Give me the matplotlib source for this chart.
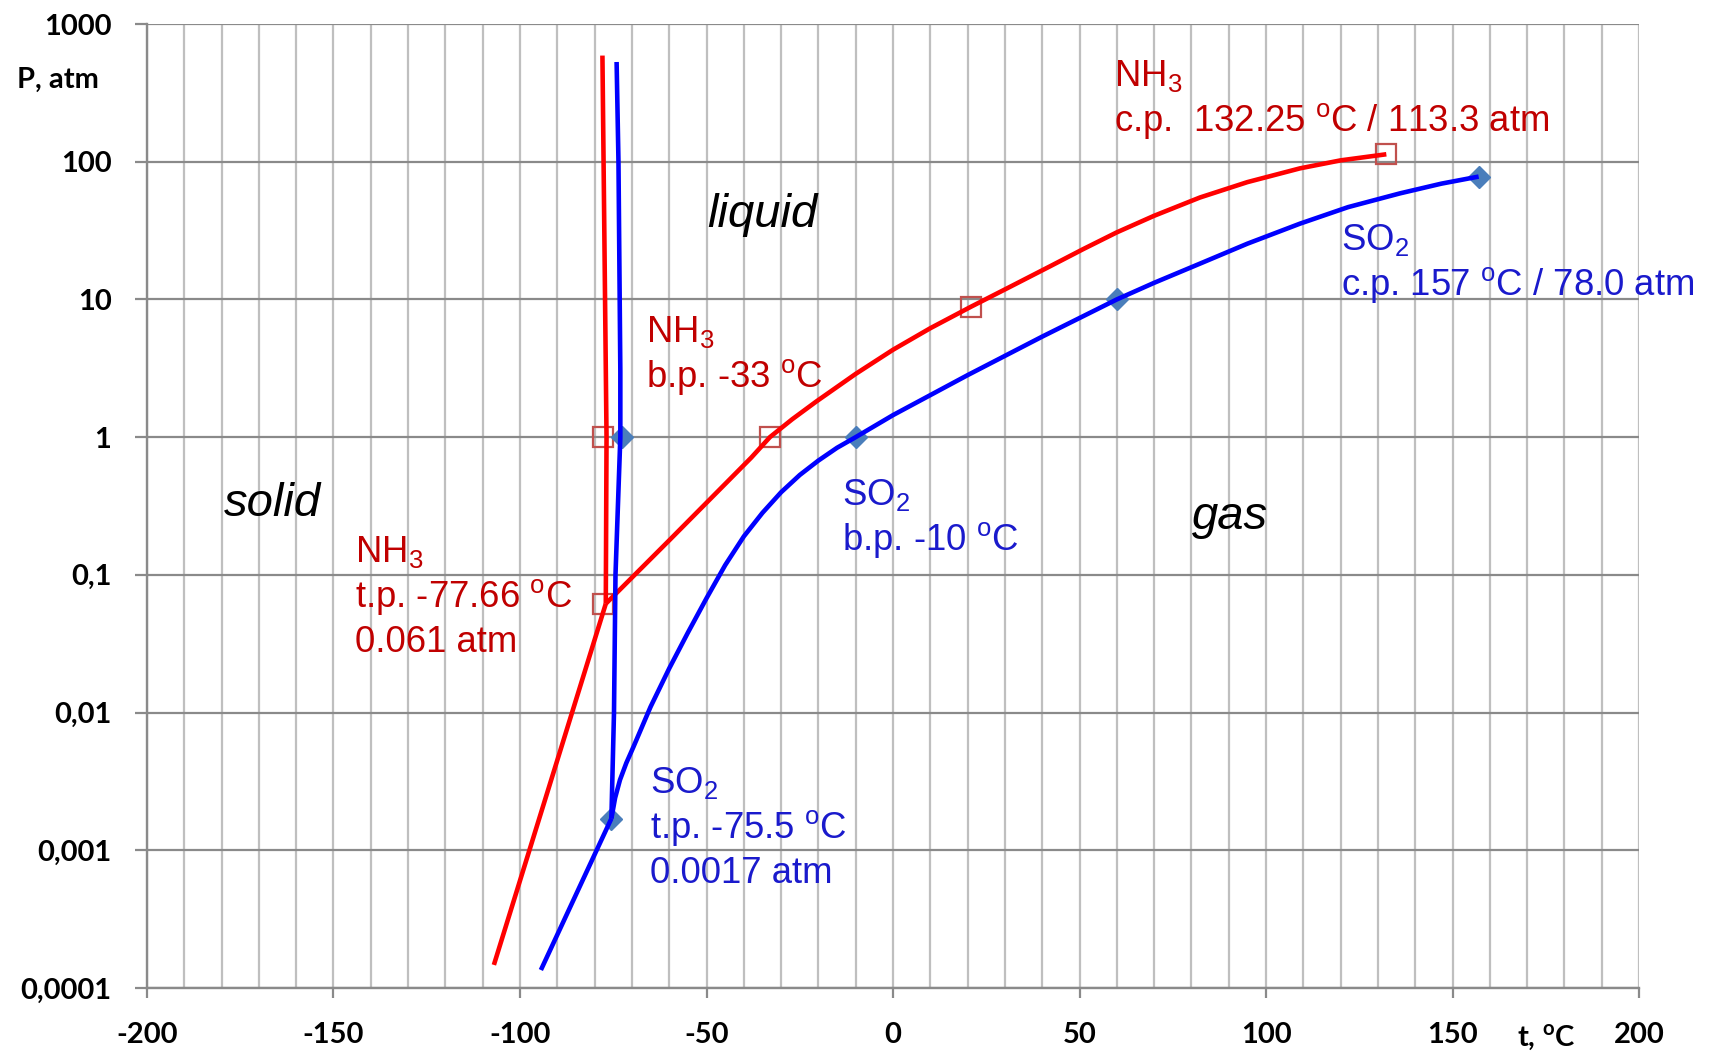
import matplotlib
matplotlib.use("Agg")
import matplotlib.pyplot as plt
from matplotlib.ticker import MultipleLocator, NullLocator, FixedLocator

plt.rcParams["mathtext.fontset"] = "custom"
plt.rcParams["mathtext.rm"] = "Liberation Sans"
plt.rcParams["mathtext.it"] = "Liberation Sans:italic"
plt.rcParams["mathtext.bf"] = "Lato:bold"
plt.rcParams["axes.unicode_minus"] = False

RED = "#FF0000"
BLUE = "#0000FF"
RED_TXT = "#C00000"
BLUE_TXT = "#1A1ACC"
SQ_EDGE = "#C0504D"
DIA_FILL = "#4A7EBB"
GRID_V = "#BFBFBF"
GRID_H = "#8A8A8A"

# NH3 (t in degC, P in atm)
nh3_vap_t = [-77.0, -60, -45, -38, -33, -27, -20.5, -10, 0, 10, 20.9, 31, 42.1, 51,
             60, 70, 82.3, 95, 109.1, 120, 132.25]
nh3_vap_p = [0.0617, 0.178, 0.457, 0.71, 1.0, 1.35, 1.82, 2.88, 4.31, 6.18, 8.85, 12.2,
             17.4, 23.2, 30.7, 40.5, 55.0, 71.1, 89.5, 102.3, 113.3]
nh3_sub_t = [-107.0, -77.0]
nh3_sub_p = [1.47e-4, 0.0617]
nh3_melt_t = [-77.0, -76.8, -77.9]
nh3_melt_p = [0.0617, 1.0, 590]
nh3_pts_t = [-77.66, -77.66, -33, 21, 132.25]
nh3_pts_p = [0.061, 1, 1, 8.8, 113.3]

# SO2
so2_vap_t = [-75.5, -74.5, -73.2, -71.5, -69.6, -65, -60, -55, -50, -45, -40, -35, -30,
             -25, -20, -15, -10, 0, 20, 40, 60, 70, 82.3, 95, 109.1, 122, 135.9, 147, 157]
so2_vap_p = [0.0017, 0.0024, 0.00324, 0.0043, 0.00562, 0.011, 0.0209, 0.038, 0.0676,
             0.1175, 0.19, 0.282, 0.398, 0.531, 0.676, 0.837, 1.0, 1.445, 2.82, 5.37,
             10, 13.2, 18.2, 25.4, 35.5, 46.8, 58.9, 69.3, 78.0]
so2_sub_t = [-94.4, -75.5]
so2_sub_p = [1.35e-4, 0.0017]
so2_melt_t = [-75.5, -74.8, -74.4, -73.1, -73.1, -73.6, -74.1]
so2_melt_p = [0.0017, 0.01, 0.1, 1.0, 3.0, 100, 530]
so2_pts_t = [-75.5, -72.7, -10, 60, 157]
so2_pts_p = [0.0017, 1, 1, 10, 78]

ytick_vals = [1e-4, 1e-3, 1e-2, 1e-1, 1, 10, 100, 1000]
ytick_labels = ["0,0001", "0,001", "0,01", "0,1", "1", "10", "100", "1000"]

fig = plt.figure(figsize=(17.17, 10.58), dpi=100)
ax = fig.add_axes([0.0856, 0.0662, 0.869, 0.9111])

ax.set_yscale("log")
ax.set_xlim(-200, 200)
ax.set_ylim(1e-4, 1e3)

# markers under the lines
ax.plot(nh3_pts_t, nh3_pts_p, "s", ms=15, mfc="none", mec=SQ_EDGE, mew=1.6, zorder=3)
ax.plot(so2_pts_t, so2_pts_p, "D", ms=11.5, mfc=DIA_FILL, mec=DIA_FILL, zorder=3)

lw = 3.3
for t, p in [(nh3_vap_t, nh3_vap_p), (nh3_sub_t, nh3_sub_p), (nh3_melt_t, nh3_melt_p)]:
    ax.plot(t, p, color=RED, lw=lw, solid_capstyle="butt", solid_joinstyle="round", zorder=4)
for t, p in [(so2_vap_t, so2_vap_p), (so2_sub_t, so2_sub_p), (so2_melt_t, so2_melt_p)]:
    ax.plot(t, p, color=BLUE, lw=lw, solid_capstyle="butt", solid_joinstyle="round", zorder=4)

# axes, ticks, grid
ax.xaxis.set_major_locator(MultipleLocator(50))
ax.xaxis.set_minor_locator(MultipleLocator(10))
ax.yaxis.set_major_locator(FixedLocator(ytick_vals))
ax.yaxis.set_minor_locator(NullLocator())
ax.set_yticklabels(ytick_labels)
ax.grid(True, which="both", axis="x", color=GRID_V, lw=1.6, zorder=0)
ax.grid(True, which="major", axis="y", color=GRID_H, lw=1.6, zorder=1)
ax.set_axisbelow(True)
for s in ["top", "right"]:
    ax.spines[s].set_visible(False)
for s in ["bottom", "left"]:
    ax.spines[s].set_color(GRID_H)
    ax.spines[s].set_linewidth(1.7)
ax.tick_params(axis="x", which="major", length=7.5, width=1.6, color=GRID_H, pad=17)
ax.tick_params(axis="x", which="minor", length=0)
ax.tick_params(axis="y", which="major", length=8.6, width=1.6, color=GRID_H, pad=17)
for lab in ax.get_xticklabels() + ax.get_yticklabels():
    lab.set_fontfamily("Lato")
    lab.set_fontweight("bold")
    lab.set_fontsize(21)

fig.text(0.0335, 0.9244, "P, atm", ha="center", va="center",
         fontfamily="Lato", fontweight="bold", fontsize=21)
fig.text(0.9004, 0.0198, r"t, $^{\mathbf{o}}$C", ha="center", va="center",
         fontfamily="Lato", fontweight="bold", fontsize=21)

# annotations
TXT = dict(fontfamily="Liberation Sans", fontsize=26.3)
STEP = 32.4  # points between lines


def block(x, y, lines, color):
    for i, line in enumerate(lines):
        ax.annotate(line, (x, y), xytext=(0, -i * STEP), textcoords="offset points",
                    ha="left", va="baseline", color=color, zorder=6, **TXT)


block(59.2, 356, [r"NH$_3$", r"c.p.  132.25 $^{\rm o}$C / 113.3 atm"], RED_TXT)
block(120.0, 22.9, [r"SO$_2$", r"c.p. 157 $^{\rm o}$C / 78.0 atm"], BLUE_TXT)
block(-66.2, 4.91, [r"NH$_3$", r"b.p. -33 $^{\rm o}$C"], RED_TXT)
block(-13.8, 0.321, [r"SO$_2$", r"b.p. -10 $^{\rm o}$C"], BLUE_TXT)
block(-144.1, 0.1245, [r"NH$_3$", r"t.p. -77.66 $^{\rm o}$C", "0.061 atm"], RED_TXT)
block(-65.1, 0.00259, [r"SO$_2$", r"t.p. -75.5 $^{\rm o}$C", "0.0017 atm"], BLUE_TXT)

REG = dict(fontfamily="Liberation Sans", fontsize=34, style="italic",
           ha="center", va="center", color="black", zorder=6)
ax.text(-35.1, 41.3, "liquid", **REG)
ax.text(-166.3, 0.328, "solid", **REG)
ax.text(90.3, 0.263, "gas", **REG)

fig.savefig("out.png", dpi=100, facecolor="white")
